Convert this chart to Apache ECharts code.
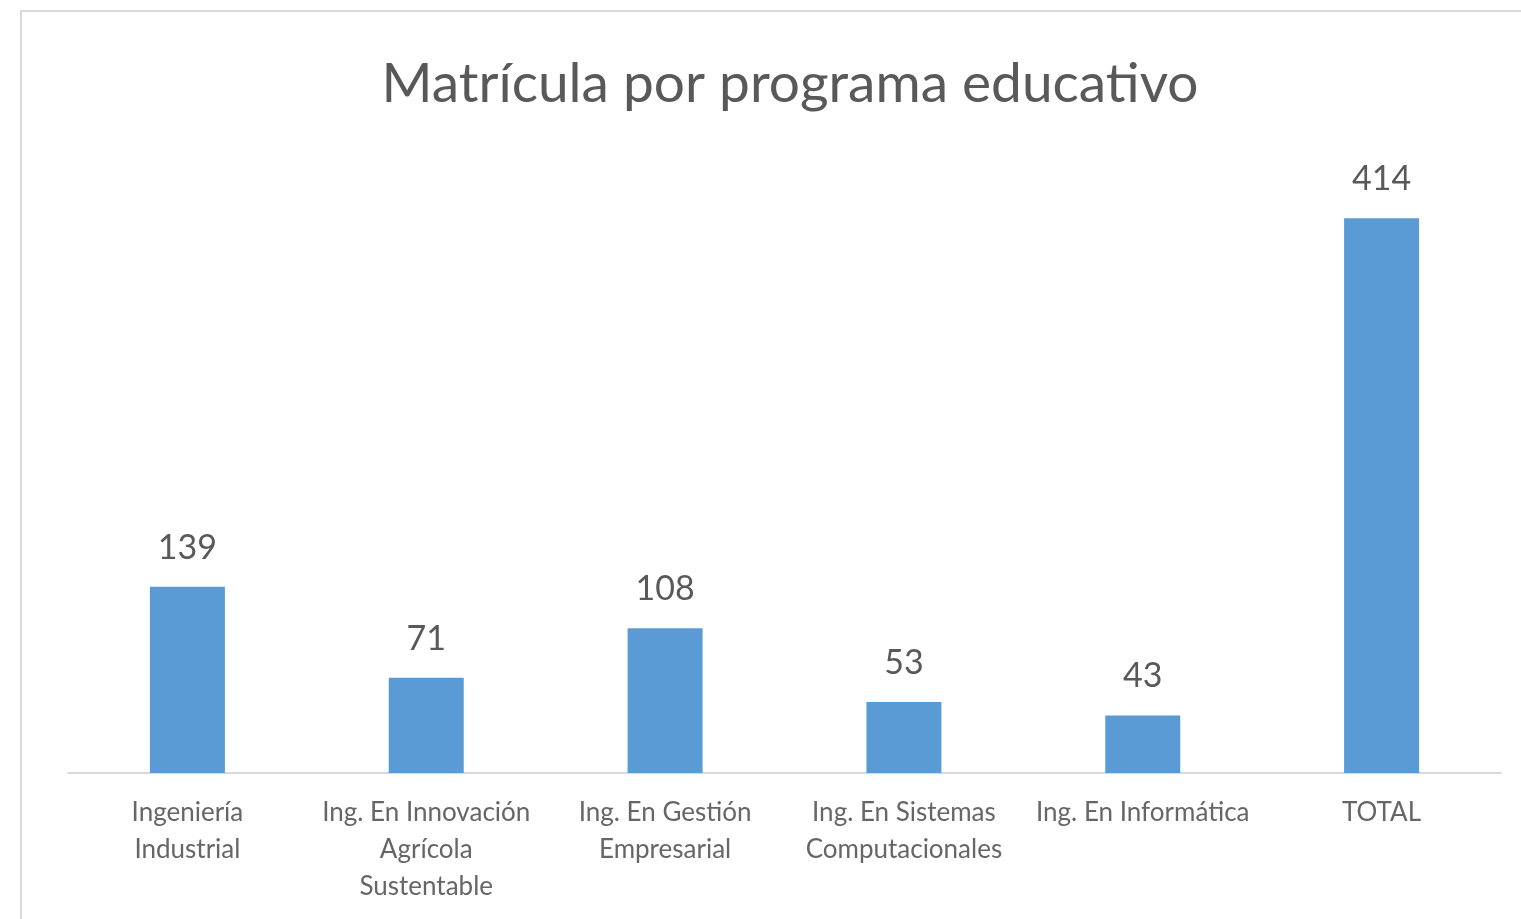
<!DOCTYPE html>
<html>
<head>
<meta charset="utf-8">
<style>
  html, body { margin: 0; padding: 0; background: #fff; }
  #chart { width: 1521px; height: 919px; }
</style>
<script src="https://cdn.jsdelivr.net/npm/echarts@6/dist/echarts.min.js"></script>
</head>
<body>
<div id="chart"></div>
<script>
// datos de la gráfica
var programas = [
  'Ingeniería\nIndustrial',
  'Ing. En Innovación\nAgrícola\nSustentable',
  'Ing. En Gestión\nEmpresarial',
  'Ing. En Sistemas\nComputacionales',
  'Ing. En Informática',
  'TOTAL'
]
var matricula = [139, 71, 108, 53, 43, 414]

var myChart = echarts.init(document.getElementById('chart'))
myChart.setOption({
  animation: false,
  textStyle: { fontFamily: 'Lato' },
  title: {
    text: 'Matrícula por programa educativo',
    left: 785,
    top: 52,
    textAlign: 'center',
    textStyle: {
      fontFamily: 'Lato',
      fontSize: 55,
      fontWeight: 'normal',
      color: '#595959'
    }
  },
  graphic: [
    {
      type: 'rect',
      shape: { x: 21, y: 11, width: 1540, height: 940 },
      style: { fill: 'none', stroke: '#d9d9d9', lineWidth: 2 }
    }
  ],
  grid: {
    left: 68,
    right: 20,
    top: 170,
    bottom: 146,
    containLabel: false
  },
  xAxis: {
    type: 'category',
    data: programas,
    axisLine: { lineStyle: { color: '#d9d9d9', width: 2 } },
    axisTick: { show: false },
    axisLabel: {
      interval: 0,
      color: '#666666',
      fontSize: 26,
      lineHeight: 37,
      margin: 21
    }
  },
  yAxis: {
    type: 'value',
    min: 0,
    max: 450,
    show: false,
    splitLine: { show: false }
  },
  series: [
    {
      type: 'bar',
      data: matricula,
      barWidth: 75,
      itemStyle: { color: '#5b9bd5' },
      label: {
        show: true,
        position: 'top',
        distance: 22,
        color: '#595959',
        fontSize: 34
      }
    }
  ]
})
</script>
</body>
</html>
